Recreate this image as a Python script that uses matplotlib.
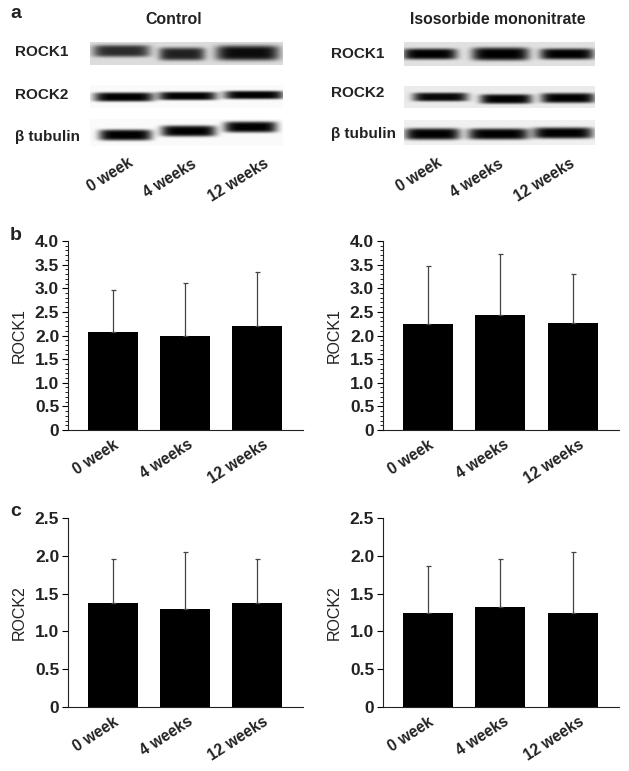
import numpy as np
import matplotlib
matplotlib.use('Agg')
import matplotlib.pyplot as plt
from matplotlib.transforms import ScaledTranslation

plt.rcParams['font.family'] = ['Liberation Sans', 'DejaVu Sans']

W, H = 629, 771

weeks = ['0 week', '4 weeks', '12 weeks']
blot_rows = ['ROCK1', 'ROCK2', 'β tubulin']

rock1_control = [2.08, 2.00, 2.20]
rock1_control_err = [0.89, 1.11, 1.15]
rock1_iso = [2.25, 2.43, 2.27]
rock1_iso_err = [1.22, 1.29, 1.03]
rock2_control = [1.38, 1.30, 1.38]
rock2_control_err = [0.58, 0.75, 0.58]
rock2_iso = [1.25, 1.32, 1.25]
rock2_iso_err = [0.62, 0.64, 0.80]

# blots: strip box (x0, x1, y0, y1, background) and bands (x0, x1, yc, half height, darkness), in pixels
strips_left = [(90, 283, 42, 65, 0.86), (90, 283, 85, 108, 0.98), (90, 283, 119, 146, 0.98)]
bands_left = [
    [(93, 150, 51, 6, 0.80), (159, 205, 54, 6.5, 0.85), (216, 279, 53, 7.5, 0.95)],
    [(94, 154, 97, 4.6, 1.0), (158, 217, 96, 4.2, 1.0), (224, 284, 95, 4.2, 1.0)],
    [(99, 152, 135, 5.5, 1.0), (161, 216, 131, 5.5, 1.0), (224, 277, 127, 5.5, 1.0)],
]
strips_right = [(404, 595, 42, 66, 0.88), (404, 595, 86, 108, 0.92), (404, 595, 120, 145, 0.94)]
bands_right = [
    [(403, 457, 54, 5.5, 1.0), (472, 529, 54, 6.5, 1.0), (540, 594, 54, 5.5, 1.0)],
    [(413, 468, 97, 4.4, 0.97), (480, 532, 99, 4.8, 1.0), (541, 595, 98, 5, 1.0)],
    [(405, 460, 134, 5.8, 1.0), (468, 529, 134, 5.6, 1.0), (533, 593, 133, 5.6, 1.0)],
]


def draw_blot(strip, bands):
    x0, x1, y0, y1, bg = strip
    xs = np.arange(x0, x1) + 0.5
    ys = np.arange(y0, y1) + 0.5
    xx, yy = np.meshgrid(xs, ys)
    img = np.full(xx.shape, bg)
    for bx0, bx1, yc, hh, dark in bands:
        xm = (bx0 + bx1) / 2
        hw = (bx1 - bx0) / 2
        shape = np.exp(-((xx - xm) / hw) ** 6 - ((yy - yc) / hh) ** 4)
        img = img * (1 - dark * shape)
    ax = fig.add_axes([x0 / W, 1 - y1 / H, (x1 - x0) / W, (y1 - y0) / H])
    ax.imshow(img, cmap='gray', vmin=0, vmax=1, aspect='auto', interpolation='bilinear')
    ax.axis('off')


def draw_bars(rect, vals, errs, ymax, step, ylabel, minor=None):
    x0, x1, ytop, ybot = rect
    ax = fig.add_axes([x0 / W, 1 - ybot / H, (x1 - x0) / W, (ybot - ytop) / H])
    pos = np.arange(3)
    ax.bar(pos, vals, width=0.694, color='black')
    ax.errorbar(pos, vals, yerr=[np.zeros(3), errs], fmt='none', ecolor='#444444',
                elinewidth=0.9, capsize=1.8, capthick=0.9)
    ax.set_xlim(-0.63, 2.64)
    ax.set_ylim(0, ymax)
    for s in ['top', 'right']:
        ax.spines[s].set_visible(False)
    for s in ['left', 'bottom']:
        ax.spines[s].set_linewidth(0.8)
        ax.spines[s].set_color('#222222')
    ticks = np.arange(0, ymax + step / 2, step)
    ax.set_yticks(ticks)
    ax.set_yticklabels(['0'] + ['%.1f' % t for t in ticks[1:]], fontsize=12.5,
                       fontweight='bold', color='#222222')
    if minor:
        ax.set_yticks(np.arange(0, ymax + minor / 2, minor), minor=True)
        ax.tick_params(axis='y', which='minor', length=2, width=0.6)
    ax.tick_params(axis='y', which='major', length=4, width=0.8, pad=2)
    ax.set_xticks(pos)
    ax.set_xticklabels(weeks, rotation=33, ha='right', rotation_mode='anchor',
                       fontsize=11.2, fontweight='bold', color='#222222')
    ax.tick_params(axis='x', length=0, pad=5)
    # the labels drift right across the axis in the original
    for lab, dx in zip(ax.get_xticklabels(), [0, 2.5, 5.5]):
        lab.set_transform(lab.get_transform() + ScaledTranslation(dx / 100, 0, fig.dpi_scale_trans))
    ax.set_ylabel(ylabel, fontsize=11.5, color='#222222', labelpad=6)


fig = plt.figure(figsize=(W / 100, H / 100), dpi=100)

for strip, bands in zip(strips_left, bands_left):
    draw_blot(strip, bands)
for strip, bands in zip(strips_right, bands_right):
    draw_blot(strip, bands)


def px_text(x, y, s, **kw):
    fig.text(x / W, 1 - y / H, s, va='center', color='#222222', **kw)


px_text(10, 14, 'a', fontsize=14, fontweight='bold')
px_text(10, 235, 'b', fontsize=14, fontweight='bold')
px_text(10, 512, 'c', fontsize=14, fontweight='bold')
px_text(174, 20, 'Control', fontsize=11.4, fontweight='bold', ha='center')
px_text(498, 20, 'Isosorbide mononitrate', fontsize=11.3, fontweight='bold', ha='center')

for name, x, y in zip(blot_rows, [15, 15, 15], [52, 95, 137]):
    px_text(x, y, name, fontsize=11, fontweight='bold')
for name, x, y in zip(blot_rows, [331, 331, 331], [54, 93, 134]):
    px_text(x, y, name, fontsize=11, fontweight='bold')

# rotated week labels under the blots
for name, x, y in zip(weeks, [128, 191, 263], [155, 156, 156]):
    fig.text(x / W, 1 - y / H, name, rotation=32, ha='right', va='top', rotation_mode='anchor',
             fontsize=11.2, fontweight='bold', color='#222222')
for name, x, y in zip(weeks, [437, 498, 569], [155, 156, 156]):
    fig.text(x / W, 1 - y / H, name, rotation=32, ha='right', va='top', rotation_mode='anchor',
             fontsize=11.2, fontweight='bold', color='#222222')

draw_bars((67.5, 303, 241, 430), rock1_control, rock1_control_err, 4.0, 0.5, 'ROCK1', minor=0.1)
draw_bars((382.5, 619, 241, 430), rock1_iso, rock1_iso_err, 4.0, 0.5, 'ROCK1', minor=0.1)
draw_bars((67.5, 303, 518, 707), rock2_control, rock2_control_err, 2.5, 0.5, 'ROCK2')
draw_bars((382.5, 619, 518, 707), rock2_iso, rock2_iso_err, 2.5, 0.5, 'ROCK2')

fig.savefig('out.png', dpi=100)
